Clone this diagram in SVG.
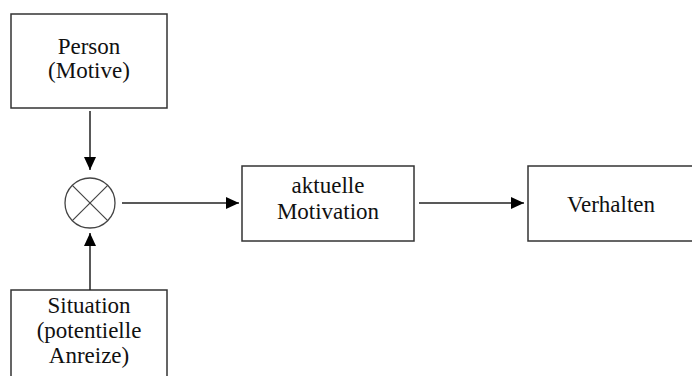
<svg xmlns="http://www.w3.org/2000/svg" width="692" height="376" viewBox="0 0 692 376">
<defs>
<marker id="ah" markerWidth="13" markerHeight="12" refX="13" refY="6" orient="auto" markerUnits="userSpaceOnUse">
<path d="M0,0 L13,6 L0,12 Z" fill="#000"/>
</marker>
<style>
.box{fill:#fff;stroke:#333;stroke-width:1.5}
.t{font-family:'Liberation Serif',serif;font-size:23px;fill:#111;text-anchor:middle}
.c{stroke:#222;stroke-width:1.5;fill:none}
</style>
</defs>
<rect width="692" height="376" fill="#fff"/>
<g id="person">
<rect class="box" x="11" y="14" width="156" height="94"/>
<text class="t" x="89" y="54">Person</text>
<text class="t" x="89" y="78">(Motive)</text>
</g>
<g id="situation">
<rect class="box" x="11" y="290" width="156" height="100"/>
<text class="t" x="89" y="313">Situation</text>
<text class="t" x="89" y="338">(potentielle</text>
<text class="t" x="89" y="363">Anreize)</text>
</g>
<g id="multiplier">
<circle cx="90" cy="203" r="25" fill="#fff" stroke="#444" stroke-width="1.3"/>
<line x1="72.3" y1="185.3" x2="107.7" y2="220.7" stroke="#444" stroke-width="1.2"/>
<line x1="107.7" y1="185.3" x2="72.3" y2="220.7" stroke="#444" stroke-width="1.2"/>
</g>
<g id="motivation">
<rect class="box" x="242" y="166" width="172" height="75"/>
<text class="t" x="328" y="193">aktuelle</text>
<text class="t" x="328" y="219">Motivation</text>
</g>
<g id="verhalten">
<rect class="box" x="528" y="166" width="170" height="75"/>
<text class="t" x="611" y="212">Verhalten</text>
</g>
<g id="connectors">
<line class="c" x1="90" y1="111" x2="90" y2="170" marker-end="url(#ah)"/>
<line class="c" x1="90" y1="290" x2="90" y2="233" marker-end="url(#ah)"/>
<line class="c" x1="122" y1="203" x2="239" y2="203" marker-end="url(#ah)"/>
<line class="c" x1="419" y1="203" x2="524" y2="203" marker-end="url(#ah)"/>
</g>
</svg>
